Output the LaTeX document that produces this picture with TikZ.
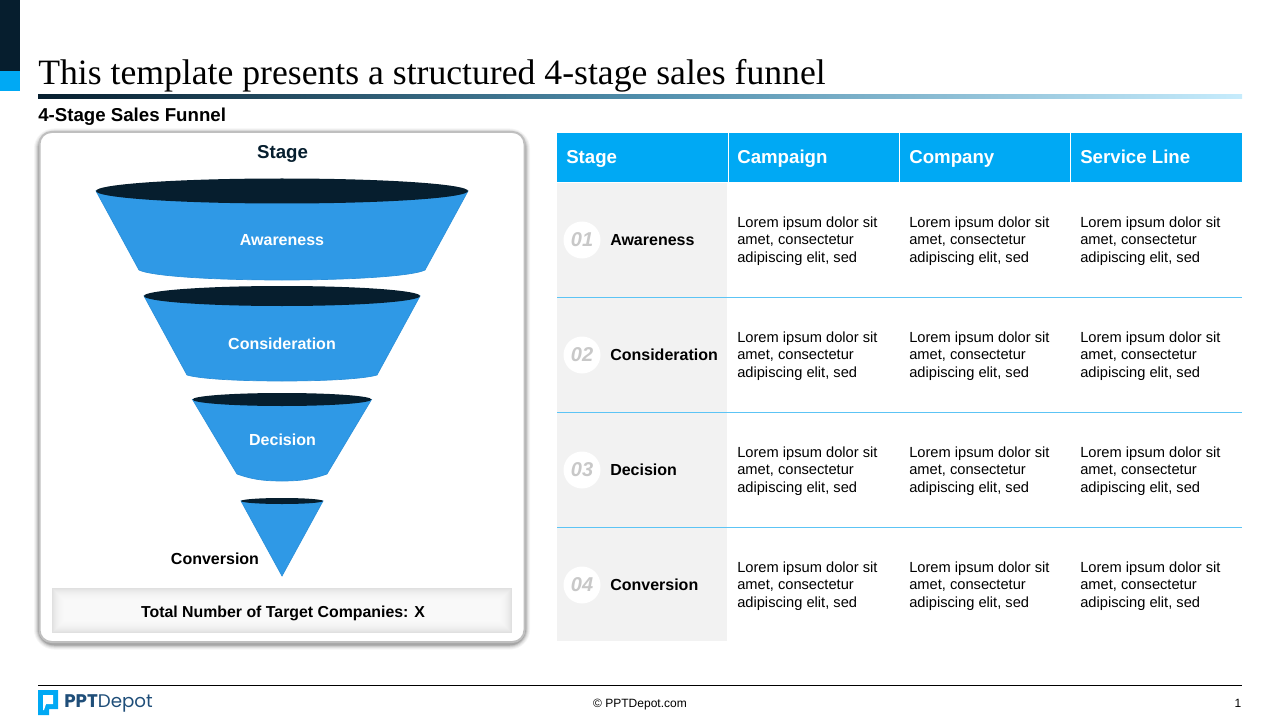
\documentclass[tikz,border=0pt]{standalone}
\usepackage{fontspec}
\setmainfont{Liberation Sans}
\newfontfamily\titlefont{Liberation Serif}
\newfontfamily\logofont{Poppins}
\usepackage{tikz}
\definecolor{navy}{HTML}{061E2E}
\definecolor{sky}{HTML}{00A9F4}
\definecolor{funnelblue}{HTML}{2F99E6}
\definecolor{funneledge}{HTML}{2C90DA}
\definecolor{rowline}{HTML}{5CC4F5}
\definecolor{rowgray}{HTML}{F2F2F2}
\definecolor{numgray}{HTML}{C8C8C8}
\definecolor{logoblue}{HTML}{1F4E79}
\newcommand{\pxunit}{*0.75pt}
\tikzset{
  head/.style={anchor=base west,inner sep=0pt,text=white,font=\fontsize{14}{16}\selectfont\bfseries},
  stagelabel/.style={anchor=base west,inner sep=0pt,font=\fontsize{12}{14}\selectfont\bfseries},
  lorem/.style={anchor=west,inner sep=0pt,align=left,font=\fontsize{11}{13.1}\selectfont},
  numdisc/.style={circle,fill=white,minimum size=37\pxunit,inner sep=0pt,text=numgray,font=\fontsize{15}{17}\selectfont\bfseries\itshape},
  funnellabel/.style={anchor=base,inner sep=0pt,text=white,font=\fontsize{12}{14}\selectfont\bfseries},
  foot/.style={anchor=base,inner sep=0pt,font=\fontsize{9}{11}\selectfont},
}
% centre y, half width, half height, corner y, corner half width, bottom y
\newcommand{\funnelpart}[6]{
  \filldraw[fill=funnelblue,draw=funneledge,line width=0.5pt] (282-#2,#1) -- (282-#5,#4)
    .. controls (282-#5+12,#4+#6*0.6-#4*0.6) and (282-#5*0.5,#6) .. (282,#6)
    .. controls (282+#5*0.5,#6) and (282+#5-12,#4+#6*0.6-#4*0.6) .. (282+#5,#4)
    -- (282+#2,#1) -- cycle;
  \fill[navy] (282,#1) ellipse ({#2} and {#3});
}
\newcommand{\tablerow}[3]{
  \node[numdisc] (num#1) at (582,#2) {\raisebox{-1.25pt}{0#1}};
  \node[stagelabel] (stage#1) at (610,#2+5.3) {#3};
  \node[lorem] (campaign#1) at (737,#2+1.1) {Lorem ipsum dolor sit\\amet, consectetur\\adipiscing elit, sed};
  \node[lorem] (company#1) at (909,#2+1.1) {Lorem ipsum dolor sit\\amet, consectetur\\adipiscing elit, sed};
  \node[lorem] (service#1) at (1080,#2+1.1) {Lorem ipsum dolor sit\\amet, consectetur\\adipiscing elit, sed};
}
\begin{document}
\begin{tikzpicture}[x=0.75pt,y=-0.75pt]
  \useasboundingbox (0,0) rectangle (1280,720);

  % corner bar and title
  \fill[navy] (0,0) rectangle (20,71);
  \fill[sky] (0,71) rectangle (20,91);
  \node[anchor=base west,inner sep=0pt,font=\fontsize{26.75}{29}\selectfont\titlefont] (title) at (38,84.5) {This template presents a structured 4-stage sales funnel};
  \shade[left color=navy,right color=sky!22!white,middle color=navy!55!sky!70!white] (38,95) rectangle (1242,99);
  \node[anchor=base west,inner sep=0pt,font=\fontsize{14}{16}\selectfont\bfseries] (subtitle) at (38,122) {4-Stage Sales Funnel};

  % frame
  \foreach \w/\o in {11/0.04,9/0.05,7/0.07,5/0.1,3/0.15}
    \draw[black,opacity=\o,line width=\w*0.75pt,rounded corners=11pt] (39.5,134) rectangle (524.5,644);
  \draw[fill=white,draw=black!25,line width=1.5pt,rounded corners=9pt] (39.5,132) rectangle (524.5,642);
  \node[anchor=base,inner sep=0pt,text=navy,font=\fontsize{14}{16}\selectfont\bfseries] (stagehead) at (282.5,159) {Stage};

  % funnel
  \funnelpart{191}{186}{12.5}{270}{143}{280}
  \funnelpart{296}{138}{10}{375}{95}{381}
  \funnelpart{399.5}{89.5}{6.5}{474}{45}{481}
  \filldraw[fill=funnelblue,draw=funneledge,line width=0.5pt] (241,501) -- (282,576) -- (323,501) -- cycle;
  \fill[navy] (282,501) ellipse (41 and 3);
  \node[funnellabel] (awareness) at (282,245.4) {Awareness};
  \node[funnellabel] (consideration) at (282,349) {Consideration};
  \node[funnellabel] (decision) at (282.5,445) {Decision};
  \node[anchor=base,inner sep=0pt,font=\fontsize{12}{14}\selectfont\bfseries] (conversion) at (215,564) {Conversion};

  % total box
  \fill[black!12] (52,588) rectangle (512,633);
  \foreach \i in {1,...,16}
    \fill[white,opacity=0.16] (52+\i,588+\i) rectangle (512-\i,633-\i);
  \node[anchor=base,inner sep=0pt,font=\fontsize{11.9}{14}\selectfont\bfseries] (total) at (283,617) {Total Number of Target Companies: X};

  % table
  \fill[sky] (557,133) rectangle (1242,182);
  \fill[rowgray] (557,183) rectangle (727,641);
  \draw[white] (728,133) -- (728,182);
  \draw[white] (899,133) -- (899,182);
  \draw[white] (1070,133) -- (1070,182);
  \draw[rowline,line width=1.2pt] (557,297.5) -- (1242,297.5);
  \draw[rowline,line width=1.2pt] (557,412.5) -- (1242,412.5);
  \draw[rowline,line width=1.2pt] (557,527.5) -- (1242,527.5);
  \node[head] (headstage) at (566,164) {Stage};
  \node[head] (headcampaign) at (737,164) {Campaign};
  \node[head] (headcompany) at (909,164) {Company};
  \node[head] (headservice) at (1080,164) {Service Line};
  \tablerow{1}{240}{Awareness}
  \tablerow{2}{355}{Consideration}
  \tablerow{3}{470}{Decision}
  \tablerow{4}{585}{Conversion}

  % footer
  \draw[black] (38,685.5) -- (1242,685.5);
  \fill[sky] (38,690) -- (58,690) -- (58,709) -- (49,709) -- (49,715) -- (38,715) -- cycle;
  \fill[white] (43,695) -- (53,695) -- (53,704) -- (46,704) -- (44,710) -- (43,710) -- cycle;
  \node[anchor=base west,inner sep=0pt,text=logoblue,font=\fontsize{13.7}{15}\selectfont\logofont] (logo) at (64,707) {\textbf{PPT}Depot};
  \node[foot] (copyright) at (640,707) {© PPTDepot.com};
  \node[foot] (pagenum) at (1238,707) {1};
\end{tikzpicture}
\end{document}
